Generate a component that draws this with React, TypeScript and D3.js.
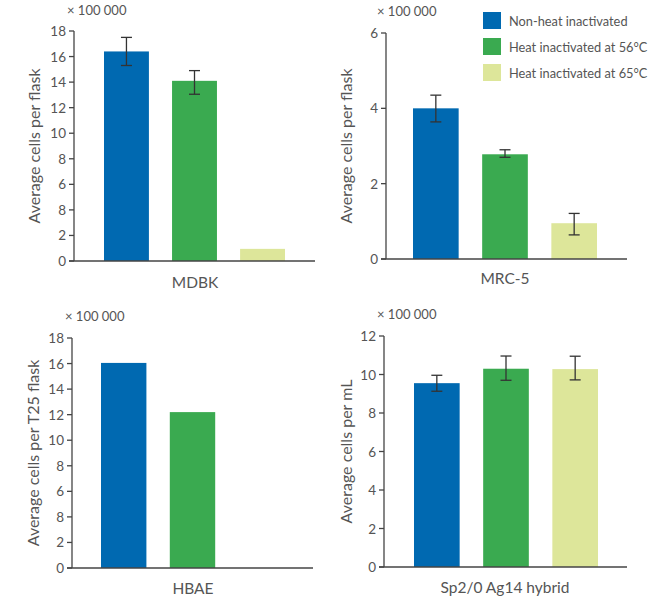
import React from "react";
import * as d3 from "d3";

const seriesNames = ["Non-heat inactivated", "Heat inactivated at 56°C", "Heat inactivated at 65°C"];
const seriesColors = ["#0069b1", "#3aaa50", "#dde69a"];

const panelNames = ["MDBK", "MRC-5", "HBAE", "Sp2/0 Ag14 hybrid"];
const yTitles = [
  "Average cells per flask",
  "Average cells per flask",
  "Average cells per T25 flask",
  "Average cells per mL",
];
const yMaxes = [18, 6, 18, 12];
const tickValues = [
  [0, 2, 4, 6, 8, 10, 12, 14, 16, 18],
  [0, 2, 4, 6],
  [0, 2, 4, 6, 8, 10, 12, 14, 16, 18],
  [0, 2, 4, 6, 8, 10, 12],
];
const tickLabels = [
  ["0", "2", "8", "6", "8", "10", "12", "14", "16", "18"],
  ["0", "2", "4", "6"],
  ["0", "2", "8", "6", "8", "10", "12", "14", "16", "18"],
  ["0", "2", "4", "6", "8", "10", "12"],
];
const unitLabel = "× 100 000";

const means: (number | null)[][] = [
  [16.4, 14.1, 0.95],
  [4.0, 2.78, 0.95],
  [16.05, 12.2, null],
  [9.55, 10.3, 10.28],
];
const errLow: (number | null)[][] = [
  [15.3, 13.05, null],
  [3.64, 2.7, 0.64],
  [null, null, null],
  [9.13, 9.7, 9.72],
];
const errHigh: (number | null)[][] = [
  [17.5, 14.9, null],
  [4.35, 2.9, 1.21],
  [null, null, null],
  [9.96, 10.96, 10.95],
];

// layout (pixel frames for each panel)
const frames = [
  { axisX: 74, axisEnd: 315, yTop: 31, yBottom: 261, b0: 104, b1: 285, ux: 67, uy: 12, tx: 33, lx: 195, ly: 282 },
  { axisX: 386, axisEnd: 627, yTop: 33, yBottom: 259, b0: 413, b1: 597, ux: 377, uy: 13, tx: 345, lx: 505, ly: 278 },
  { axisX: 72, axisEnd: 313, yTop: 338, yBottom: 568, b0: 101, b1: 284, ux: 65, uy: 318, tx: 32, lx: 193, ly: 588 },
  { axisX: 384, axisEnd: 627, yTop: 336, yBottom: 567, b0: 414, b1: 598, ux: 377, uy: 316, tx: 345, lx: 505, ly: 587 },
];

const FONT = "Lato, 'Noto Sans', sans-serif";
const TEXT = "#555";
const AXIS = "#444";

function Panel({ i }: { i: number }) {
  const f = frames[i];
  const y = d3.scaleLinear().domain([0, yMaxes[i]]).range([f.yBottom, f.yTop]);
  const x = d3.scaleBand<string>().domain(seriesNames).range([f.b0, f.b1]).paddingInner(0.34).paddingOuter(0);
  const bw = x.bandwidth();
  return (
    <g>
      <text x={f.ux} y={f.uy} dominantBaseline="middle" fontSize={13} fill={TEXT} fontFamily={FONT}>
        {unitLabel}
      </text>
      {seriesNames.map((s, j) => {
        const m = means[i][j];
        if (m == null) return null;
        return <rect key={s} x={x(s)} y={y(m)} width={bw} height={y(0) - y(m)} fill={seriesColors[j]} />;
      })}
      {seriesNames.map((s, j) => {
        const lo = errLow[i][j];
        const hi = errHigh[i][j];
        if (lo == null || hi == null) return null;
        const cx = (x(s) as number) + bw / 2;
        return (
          <g key={"e" + s} stroke="#333" strokeWidth={1.3}>
            <line x1={cx} x2={cx} y1={y(lo)} y2={y(hi)} />
            <line x1={cx - 5.5} x2={cx + 5.5} y1={y(lo)} y2={y(lo)} />
            <line x1={cx - 5.5} x2={cx + 5.5} y1={y(hi)} y2={y(hi)} />
          </g>
        );
      })}
      <line x1={f.axisX} x2={f.axisX} y1={y(yMaxes[i])} y2={y(0)} stroke={AXIS} strokeWidth={1.3} />
      <line x1={f.axisX - 5} x2={f.axisEnd} y1={y(0)} y2={y(0)} stroke={AXIS} strokeWidth={1.3} />
      {tickValues[i].map((t, k) => (
        <g key={t}>
          <line x1={f.axisX - 5} x2={f.axisX} y1={y(t)} y2={y(t)} stroke={AXIS} strokeWidth={1.3} />
          <text
            x={f.axisX - 8}
            y={y(t)}
            textAnchor="end"
            dominantBaseline="central"
            fontSize={13.5}
            fill={TEXT}
            fontFamily={FONT}
          >
            {tickLabels[i][k]}
          </text>
        </g>
      ))}
      <text
        transform={`translate(${f.tx},${(f.yTop + f.yBottom) / 2}) rotate(-90)`}
        textAnchor="middle"
        dominantBaseline="central"
        fontSize={16}
        fill={TEXT}
        fontFamily={FONT}
      >
        {yTitles[i]}
      </text>
      <text x={f.lx} y={f.ly} textAnchor="middle" dominantBaseline="central" fontSize={15.5} fill={TEXT} fontFamily={FONT}>
        {panelNames[i]}
      </text>
    </g>
  );
}

const legendX = 483;
const legendYs = [21, 47, 73];

export default function App() {
  return (
    <svg width={650} height={608} style={{ position: "absolute", left: 0, top: 0, background: "#fff" }}>
      {panelNames.map((_, i) => (
        <Panel key={i} i={i} />
      ))}
      {seriesNames.map((s, j) => (
        <g key={s}>
          <rect x={legendX} y={legendYs[j] - 9} width={18} height={17} fill={seriesColors[j]} />
          <text x={legendX + 26} y={legendYs[j]} dominantBaseline="central" fontSize={12.8} fill={TEXT} fontFamily={FONT}>
            {s}
          </text>
        </g>
      ))}
    </svg>
  );
}
